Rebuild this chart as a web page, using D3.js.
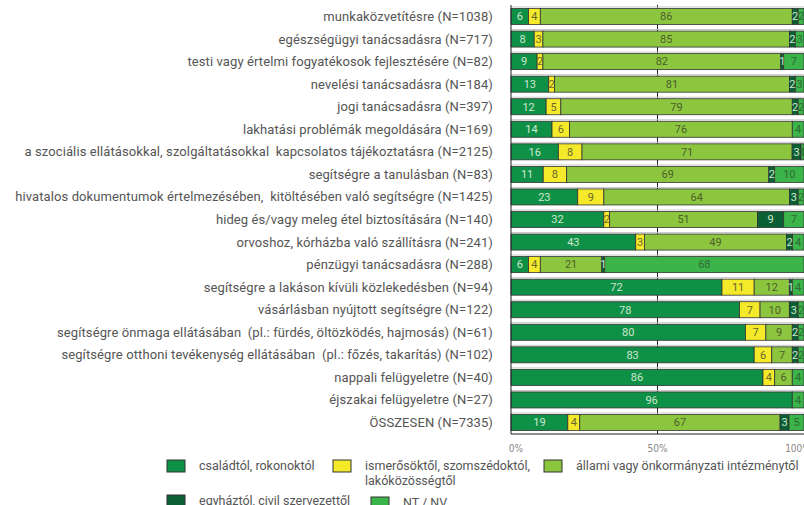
<!DOCTYPE html>
<html>
<head>
<meta charset="utf-8">
<script src="https://cdn.jsdelivr.net/npm/d3@7"></script>
<style>
  body { margin: 0; background: #fff; }
  svg { display: block; }
</style>
</head>
<body>
<div id="chart"></div>
<script>
// categories, top to bottom
const categories = [
  "munkaközvetítésre (N=1038)",
  "egészségügyi tanácsadásra (N=717)",
  "testi vagy értelmi fogyatékosok fejlesztésére (N=82)",
  "nevelési tanácsadásra (N=184)",
  "jogi tanácsadásra (N=397)",
  "lakhatási problémák megoldására (N=169)",
  "a szociális ellátásokkal, szolgáltatásokkal  kapcsolatos tájékoztatásra (N=2125)",
  "segítségre a tanulásban (N=83)",
  "hivatalos dokumentumok értelmezésében,  kitöltésében való segítségre (N=1425)",
  "hideg és/vagy meleg étel biztosítására (N=140)",
  "orvoshoz, kórházba való szállításra (N=241)",
  "pénzügyi tanácsadásra (N=288)",
  "segítségre a lakáson kívüli közlekedésben (N=94)",
  "vásárlásban nyújtott segítségre (N=122)",
  "segítségre önmaga ellátásában  (pl.: fürdés, öltözködés, hajmosás) (N=61)",
  "segítségre otthoni tevékenység ellátásában  (pl.: főzés, takarítás) (N=102)",
  "nappali felügyeletre (N=40)",
  "éjszakai felügyeletre (N=27)",
  "ÖSSZESEN (N=7335)"
];

const familyVals   = [6, 8, 9, 13, 12, 14, 16, 11, 23, 32, 43, 6, 72, 78, 80, 83, 86, 96, 19];
const friendVals   = [4, 3, 2, 2, 5, 6, 8, 8, 9, 2, 3, 4, 11, 7, 7, 6, 4, 0, 4];
const stateVals    = [86, 85, 82, 81, 79, 76, 71, 69, 64, 51, 49, 21, 12, 10, 9, 7, 6, 0, 67];
const churchVals   = [2, 2, 1, 2, 2, 0, 3, 2, 3, 9, 2, 1, 1, 3, 2, 2, 0, 0, 3];
const ntVals       = [2, 3, 7, 3, 2, 4, 1, 10, 2, 7, 4, 68, 4, 2, 2, 2, 4, 4, 5];

const seriesNames = [
  "családtól, rokonoktól",
  "ismerősöktől, szomszédoktól,\nlakóközösségtől",
  "állami vagy önkormányzati intézménytől",
  "egyháztól, civil szervezettől",
  "NT / NV"
];
const tickValues = [0, 0.5, 1];
const tickLabels = ["0%", "50%", "100%"];

const keys = ["family", "friend", "state", "church", "nt"];
const colors = ["#0e9147", "#f5ea2a", "#8cc63f", "#0b5f35", "#3bb44a"];
const textColors = ["#cfe7cf", "#6a6630", "#4d5e2c", "#cfe7cf", "#2f6a35"];

const rows = categories.map((c, i) => ({
  cat: c,
  family: familyVals[i],
  friend: friendVals[i],
  state: stateVals[i],
  church: churchVals[i],
  nt: ntVals[i]
}));

const width = 804, height = 505;
const font = "Roboto, 'Open Sans', sans-serif";

const svg = d3.select("#chart").append("svg")
  .attr("width", width)
  .attr("height", height);

const x = d3.scaleLinear().domain([0, 1]).range([511, 804]);
const y = d3.scaleBand().domain(categories).range([5, 434])
  .paddingInner(0.29).paddingOuter(0.155);

// 50% gridline
svg.append("line")
  .attr("x1", x(0.5)).attr("x2", x(0.5))
  .attr("y1", 5).attr("y2", 434)
  .attr("stroke", "#222").attr("stroke-width", 1);

// light rule just above each bar
svg.selectAll(".rule").data(categories).enter().append("line")
  .attr("x1", x(0)).attr("x2", x(1))
  .attr("y1", d => y(d) - 1.5).attr("y2", d => y(d) - 1.5)
  .attr("stroke", "#c8c8c8").attr("stroke-width", 1);

const stack = d3.stack().keys(keys).offset(d3.stackOffsetExpand);
const series = stack(rows);

const g = svg.selectAll(".series").data(series).enter().append("g")
  .attr("fill", (d, i) => colors[i]);

g.selectAll("rect").data(d => d).enter().append("rect")
  .attr("x", d => x(d[0]))
  .attr("y", d => y(d.data.cat))
  .attr("width", d => x(d[1]) - x(d[0]))
  .attr("height", y.bandwidth())
  .attr("stroke", "#333")
  .attr("stroke-width", 0.8);

// value labels
series.forEach((s, si) => {
  svg.append("g").selectAll("text")
    .data(s.filter(d => d.data[s.key] > 0))
    .enter().append("text")
    .attr("x", d => (x(d[0]) + x(d[1])) / 2)
    .attr("y", d => y(d.data.cat) + y.bandwidth() / 2)
    .attr("dy", "0.35em")
    .attr("text-anchor", "middle")
    .attr("font-family", font)
    .attr("font-size", 11)
    .attr("fill", textColors[si])
    .text(d => d.data[s.key]);
});

// axes
svg.append("line")
  .attr("x1", x(0)).attr("x2", x(0))
  .attr("y1", 5).attr("y2", 434)
  .attr("stroke", "#222");
svg.append("line")
  .attr("x1", x(0)).attr("x2", x(1))
  .attr("y1", 434).attr("y2", 434)
  .attr("stroke", "#222");

const tickShift = [5, 0, -6];
svg.selectAll(".tick").data(tickValues).enter().append("text")
  .attr("x", (d, i) => x(d) + tickShift[i])
  .attr("y", 452)
  .attr("text-anchor", "middle")
  .attr("font-family", "'Liberation Sans Narrow', 'DejaVu Sans Condensed', sans-serif")
  .attr("font-size", 10)
  .attr("fill", "#888")
  .text((d, i) => tickLabels[i]);

// category labels
svg.selectAll(".cat").data(categories).enter().append("text")
  .attr("x", x(0) - 18)
  .attr("y", d => y(d) + y.bandwidth() / 2)
  .attr("dy", "0.35em")
  .attr("text-anchor", "end")
  .attr("font-family", font)
  .attr("font-size", 13)
  .attr("letter-spacing", 0.1)
  .attr("fill", "#555")
  .style("white-space", "pre")
  .text(d => d);

// legend
const legendPos = [[167, 460], [333, 460], [544, 460], [167, 495], [371, 497]];
const legend = svg.selectAll(".legend").data(seriesNames).enter().append("g")
  .attr("transform", (d, i) => `translate(${legendPos[i][0]},${legendPos[i][1]})`);
legend.append("rect")
  .attr("width", 18).attr("height", 12)
  .attr("fill", (d, i) => colors[i])
  .attr("stroke", "#333").attr("stroke-width", 1);
legend.append("text")
  .attr("font-family", font)
  .attr("font-size", 12.5)
  .attr("fill", "#555")
  .each(function (d) {
    d.split("\n").forEach((line, j) => {
      d3.select(this).append("tspan")
        .attr("x", 32).attr("y", 10 + j * 15)
        .text(line);
    });
  });
</script>
</body>
</html>
